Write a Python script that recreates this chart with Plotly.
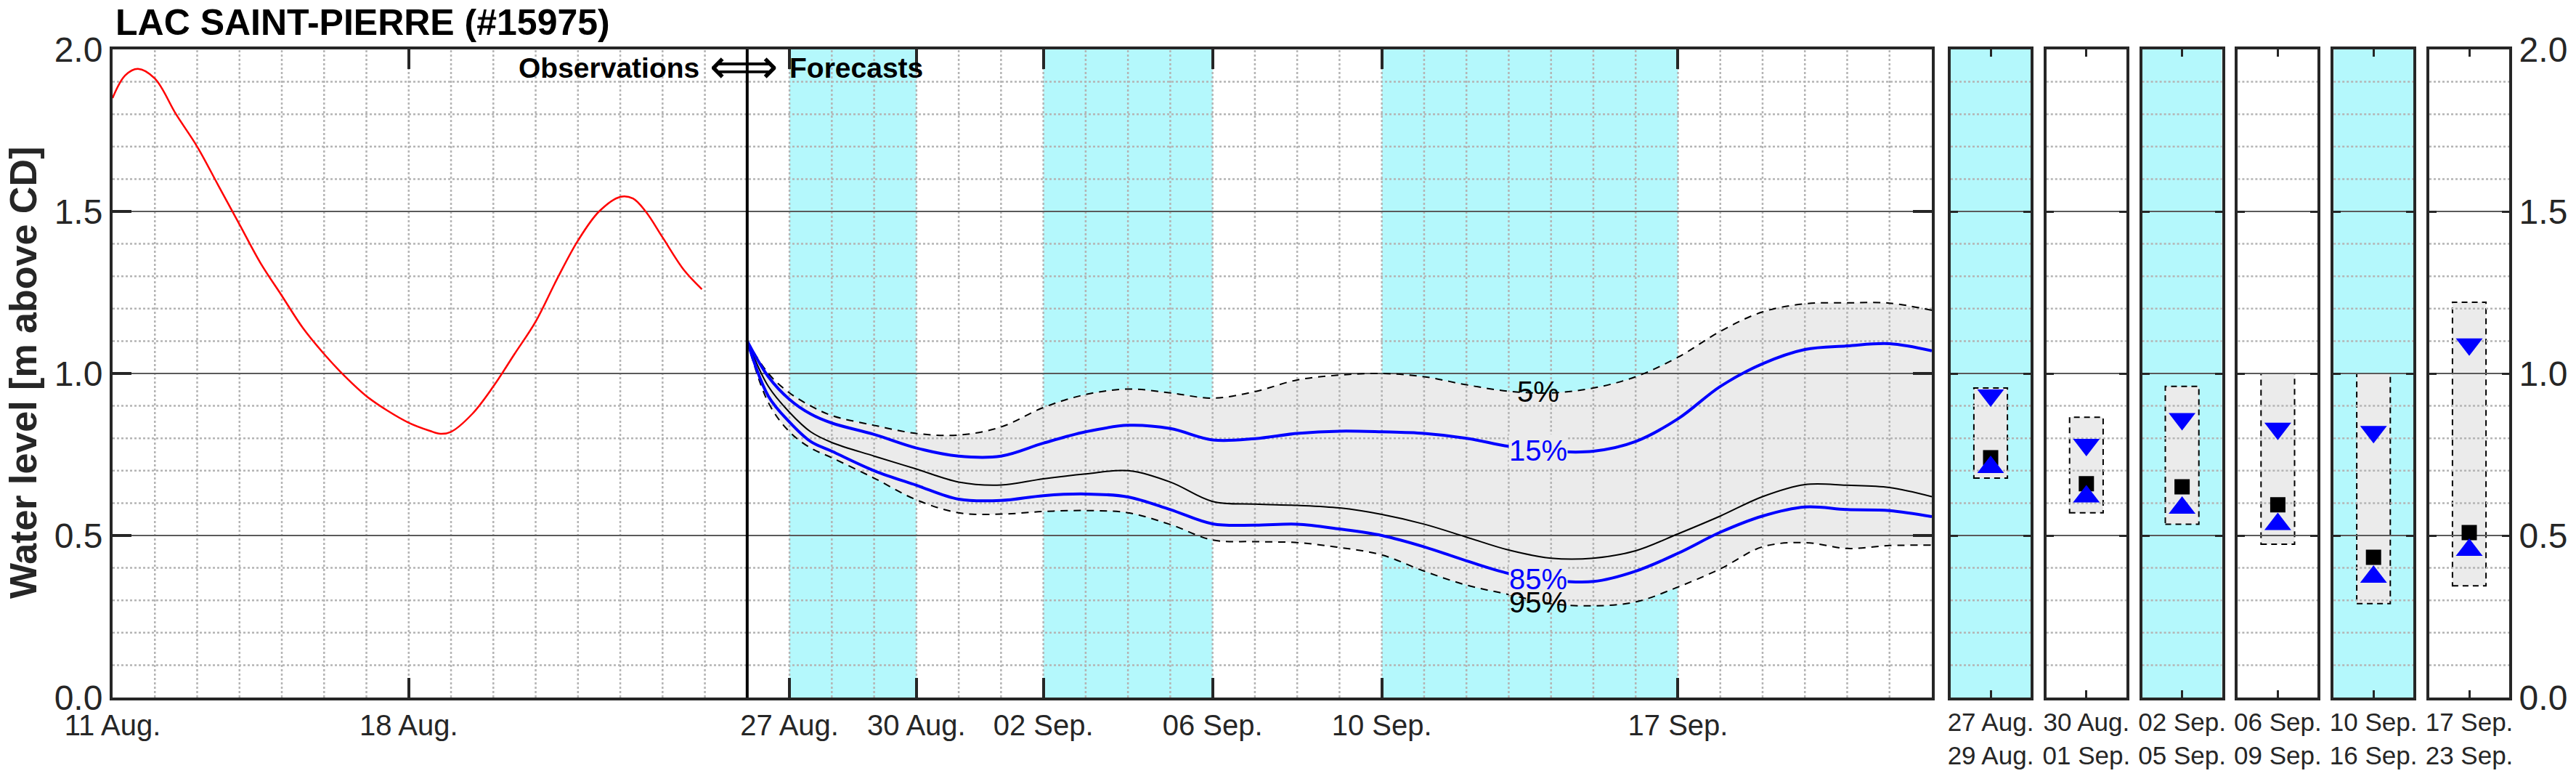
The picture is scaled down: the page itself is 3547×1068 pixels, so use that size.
import plotly.graph_objects as go
import pandas as pd

W, H = 3547, 1068

# ---------------- data ----------------
TITLE = "LAC SAINT-PIERRE (#15975)"
Y_TITLE = "Water level [m above CD]"
T0 = pd.Timestamp("2023-08-11")
T_END = pd.Timestamp("2023-09-23")
T_FC = pd.Timestamp("2023-08-26")

# observations (days after 11 Aug, level m)
obs_day = [0, 0.3, 0.6, 1.0, 1.5, 2.0, 2.5, 3.0, 3.5, 4.0, 4.5, 5.0, 5.5, 6.0, 6.5,
           7.0, 7.5, 7.75, 8.0, 8.5, 9.0, 9.5, 10.0, 10.5, 11.0, 11.5, 12.0, 12.3,
           12.6, 13.0, 13.5, 13.93]
obs_level = [1.85, 1.92, 1.94, 1.91, 1.80, 1.70, 1.58, 1.46, 1.34, 1.24, 1.14, 1.06,
             0.99, 0.93, 0.885, 0.848, 0.823, 0.814, 0.82, 0.875, 0.96, 1.06, 1.16,
             1.29, 1.41, 1.50, 1.545, 1.54, 1.50, 1.42, 1.32, 1.26]

# forecast percentiles (days after 11 Aug)
fc_day = [15, 15.5, 16, 16.5, 17, 18, 19, 20, 21, 22, 23, 24, 25, 26, 27, 28, 29,
          30, 31, 32, 33, 34, 35, 36, 37, 38, 39, 40, 41, 42, 43]
fc_p05 = [1.10, 1.00, 0.94, 0.90, 0.87, 0.84, 0.815, 0.81, 0.835, 0.895, 0.935, 0.952,
          0.94, 0.924, 0.944, 0.98, 0.995, 1.0, 0.99, 0.965, 0.945, 0.94, 0.955, 0.99,
          1.05, 1.13, 1.19, 1.215, 1.218, 1.217, 1.195]
fc_p15 = [1.10, 0.99, 0.92, 0.875, 0.847, 0.812, 0.77, 0.745, 0.745, 0.785, 0.82, 0.84,
          0.83, 0.795, 0.799, 0.815, 0.822, 0.82, 0.815, 0.80, 0.775, 0.76, 0.76, 0.79,
          0.86, 0.96, 1.03, 1.074, 1.085, 1.092, 1.07]
fc_p50 = [1.10, 0.96, 0.88, 0.82, 0.787, 0.745, 0.705, 0.665, 0.656, 0.675, 0.69, 0.70,
          0.665, 0.605, 0.597, 0.593, 0.585, 0.565, 0.535, 0.495, 0.455, 0.43, 0.43,
          0.453, 0.505, 0.56, 0.62, 0.657, 0.655, 0.648, 0.62]
fc_p85 = [1.10, 0.93, 0.85, 0.79, 0.76, 0.70, 0.655, 0.612, 0.608, 0.623, 0.628, 0.619,
          0.58, 0.536, 0.532, 0.535, 0.52, 0.50, 0.465, 0.422, 0.383, 0.362, 0.358,
          0.39, 0.445, 0.51, 0.56, 0.588, 0.58, 0.577, 0.558]
fc_p95 = [1.10, 0.91, 0.82, 0.77, 0.74, 0.677, 0.61, 0.57, 0.566, 0.574, 0.577, 0.57,
          0.534, 0.486, 0.481, 0.478, 0.463, 0.44, 0.39, 0.347, 0.318, 0.29, 0.283,
          0.295, 0.341, 0.397, 0.465, 0.478, 0.46, 0.469, 0.47]

x_tick_dates = ["2023-08-11", "2023-08-18", "2023-08-27", "2023-08-30",
                "2023-09-02", "2023-09-06", "2023-09-10", "2023-09-17"]
x_tick_text = ["11 Aug.", "18 Aug.", "27 Aug.", "30 Aug.", "02 Sep.", "06 Sep.",
               "10 Sep.", "17 Sep."]
y_tick_vals = [0, 0.5, 1.0, 1.5, 2.0]
y_tick_text = ["0.0", "0.5", "1.0", "1.5", "2.0"]

shade_start = ["2023-08-27", "2023-09-02", "2023-09-10"]
shade_end = ["2023-08-30", "2023-09-06", "2023-09-17"]

pct_label = ["5%", "15%", "85%", "95%"]
pct_label_day = [33.7, 33.7, 33.7, 33.7]
pct_label_level = [0.945, 0.763, 0.365, 0.294]
pct_label_color = ["black", "#0000ff", "#0000ff", "black"]

period_label = ["27 Aug.<br>29 Aug.", "30 Aug.<br>01 Sep.", "02 Sep.<br>05 Sep.",
                "06 Sep.<br>09 Sep.", "10 Sep.<br>16 Sep.", "17 Sep.<br>23 Sep."]
period_shaded = [True, False, True, False, True, False]
period_max = [0.955, 0.865, 0.96, 1.0, 1.0, 1.22]
period_p15 = [0.933, 0.78, 0.86, 0.83, 0.82, 1.09]
period_p50 = [0.74, 0.66, 0.65, 0.595, 0.433, 0.509]
period_p85 = [0.711, 0.62, 0.585, 0.535, 0.372, 0.455]
period_min = [0.677, 0.57, 0.535, 0.473, 0.29, 0.345]

# ---------------- style ----------------
FONT = "Liberation Sans, Arial, Helvetica, sans-serif"
AX = "#262626"
CYAN = "#b4f8fc"
BAND = "#ebebeb"
GRID_MINOR = dict(color="#b4b4b4", width=2.5, dash="3px,3px")
GRID_MAJOR = dict(color="#5a5a5a", width=2)
MINOR_LEVELS = [round(0.1 * k, 1) for k in range(1, 20) if k % 5]
MAJOR_LEVELS = [0.5, 1.0, 1.5]

Y_DOM = [1 - 960 / H, 1 - 68 / H]
MAIN_X = [155 / W, 2660 / W]
PANEL_W = 110
panel_left = [2686 + 131.8 * i for i in range(6)]
BOX_HALF = 0.21


def dates(days):
    return [T0 + pd.Timedelta(days=d) for d in days]


def hlines(levels, x0, x1):
    xs, ys = [], []
    for v in levels:
        xs += [x0, x1, None]
        ys += [v, v, None]
    return xs, ys


fig = go.Figure()

# ---- main subplot ----
fcx = dates(fc_day)
fig.add_trace(go.Scatter(x=fcx, y=fc_p95, mode="lines", line=dict(width=0, shape="spline"),
                         hoverinfo="skip", showlegend=False))
fig.add_trace(go.Scatter(x=fcx, y=fc_p05, mode="lines", line=dict(width=0, shape="spline"),
                         fill="tonexty", fillcolor=BAND, hoverinfo="skip", showlegend=False))

# grid
xs, ys = hlines(MINOR_LEVELS, T0, T_END)
fig.add_trace(go.Scatter(x=xs, y=ys, mode="lines", line=GRID_MINOR, hoverinfo="skip",
                         showlegend=False))
vx, vy = [], []
for d in pd.date_range(T0 + pd.Timedelta(days=1), T_END - pd.Timedelta(days=1), freq="D"):
    if d == T_FC:
        continue
    vx += [d, d, None]
    vy += [0, 2, None]
fig.add_trace(go.Scatter(x=vx, y=vy, mode="lines", line=GRID_MINOR, hoverinfo="skip",
                         showlegend=False))
xs, ys = hlines(MAJOR_LEVELS, T0, T_END)
fig.add_trace(go.Scatter(x=xs, y=ys, mode="lines", line=GRID_MAJOR, hoverinfo="skip",
                         showlegend=False))

# percentile lines
for vals, color, width, dash in [(fc_p05, "black", 2, "10px,8px"),
                                 (fc_p95, "black", 2, "10px,8px"),
                                 (fc_p50, "black", 2, "solid"),
                                 (fc_p15, "#0000ff", 4, "solid"),
                                 (fc_p85, "#0000ff", 4, "solid")]:
    fig.add_trace(go.Scatter(x=fcx, y=vals, mode="lines",
                             line=dict(color=color, width=width, dash=dash, shape="spline"),
                             showlegend=False))

fig.add_trace(go.Scatter(x=dates(obs_day), y=obs_level, mode="lines",
                         line=dict(color="#ff0000", width=2.5, shape="spline"),
                         showlegend=False))

shapes = []
for s, e in zip(shade_start, shade_end):
    shapes.append(dict(type="rect", xref="x", yref="y", x0=s, x1=e, y0=0, y1=2,
                       fillcolor=CYAN, line=dict(width=0), layer="below"))
shapes.append(dict(type="line", xref="x", yref="y", x0=T_FC, x1=T_FC, y0=0, y1=2,
                   line=dict(color="black", width=4), layer="above"))

annotations = []
for txt, d, v, c in zip(pct_label, pct_label_day, pct_label_level, pct_label_color):
    annotations.append(dict(x=T0 + pd.Timedelta(days=d), y=v, xref="x", yref="y",
                            text=txt, showarrow=False, xanchor="center", yanchor="middle",
                            font=dict(family=FONT, size=40, color=c),
                            bgcolor=BAND if c != "black" else None, borderpad=0))

HDR_Y = 1 - 93 / H
annotations.append(dict(x=T_FC, y=HDR_Y, xref="x", yref="paper", text="<b>Observations</b>",
                        showarrow=False, xanchor="right", yanchor="middle", xshift=-64,
                        font=dict(family=FONT, size=39, color="black")))
annotations.append(dict(x=T_FC, y=HDR_Y, xref="x", yref="paper", text="⟺",
                        showarrow=False, xanchor="center", yanchor="middle", xshift=-4,
                        yshift=2, font=dict(family="DejaVu Sans", size=66, color="black")))
annotations.append(dict(x=T_FC, y=HDR_Y, xref="x", yref="paper", text="<b>Forecasts</b>",
                        showarrow=False, xanchor="left", yanchor="middle", xshift=56,
                        font=dict(family=FONT, size=39, color="black")))

annotations.append(dict(x=157 / W, y=1 - 31 / H, xref="paper", yref="paper",
                        text="<b>" + TITLE + "</b>", showarrow=False, xanchor="left",
                        yanchor="middle", font=dict(family=FONT, size=50, color="black")))
annotations.append(dict(x=32 / W, y=1 - 513 / H, xref="paper", yref="paper",
                        text="<b>" + Y_TITLE + "</b>", showarrow=False, textangle=-90,
                        xanchor="center", yanchor="middle",
                        font=dict(family=FONT, size=52, color=AX)))

layout = dict(
    width=W, height=H, autosize=False, margin=dict(l=0, r=0, t=0, b=0, pad=0),
    paper_bgcolor="white", plot_bgcolor="white", showlegend=False,
    font=dict(family=FONT, color=AX),
    xaxis=dict(domain=MAIN_X, anchor="y", type="date", range=[T0, T_END], automargin=False,
               tickvals=x_tick_dates, ticktext=x_tick_text, ticks="inside", ticklen=27,
               tickwidth=4, tickcolor=AX, showline=True, linewidth=4, linecolor=AX,
               mirror="ticks", showgrid=False, zeroline=False,
               tickfont=dict(family=FONT, size=40, color=AX)),
    yaxis=dict(domain=Y_DOM, anchor="x", range=[0, 2], tickvals=y_tick_vals, automargin=False,
               ticktext=y_tick_text, ticks="inside", ticklen=26, tickwidth=4, tickcolor=AX,
               showline=True, linewidth=4, linecolor=AX, mirror="ticks", showgrid=False,
               zeroline=False, tickfont=dict(family=FONT, size=48, color=AX)),
)

# ---- period panels ----
for i in range(6):
    n = i + 2
    xa, ya = f"x{n}", f"y{n}"
    left = panel_left[i]
    layout[f"xaxis{n}"] = dict(domain=[left / W, (left + PANEL_W) / W], anchor=ya,
                               range=[0, 1], tickvals=[0.5], ticktext=[period_label[i]],
                               ticks="inside", ticklen=10, tickwidth=3, tickcolor=AX,
                               showline=True, linewidth=4, linecolor=AX, mirror="ticks",
                               showgrid=False, zeroline=False, automargin=False,
                               tickfont=dict(family=FONT, size=35, color=AX))
    ydict = dict(domain=Y_DOM, anchor=xa, range=[0, 2], tickvals=y_tick_vals,
                 ticktext=y_tick_text, ticks="inside", ticklen=10, tickwidth=3,
                 tickcolor=AX, showline=True, linewidth=4, linecolor=AX, mirror="ticks",
                 showgrid=False, zeroline=False, showticklabels=False, automargin=False,
                 tickfont=dict(family=FONT, size=48, color=AX))
    if i == 5:
        ydict.update(side="right", showticklabels=True)
    layout[f"yaxis{n}"] = ydict

    if period_shaded[i]:
        shapes.append(dict(type="rect", xref=xa, yref=ya, x0=0, x1=1, y0=0, y1=2,
                           fillcolor=CYAN, line=dict(width=0), layer="below"))
    shapes.append(dict(type="rect", xref=xa, yref=ya, x0=0.5 - BOX_HALF, x1=0.5 + BOX_HALF,
                       y0=period_min[i], y1=period_max[i], fillcolor=BAND,
                       line=dict(color="black", width=2, dash="8px,6px"), layer="below"))

    xs, ys = hlines(MINOR_LEVELS, 0, 1)
    fig.add_trace(go.Scatter(x=xs, y=ys, xaxis=xa, yaxis=ya, mode="lines", line=GRID_MINOR,
                             hoverinfo="skip", showlegend=False))
    xs, ys = hlines(MAJOR_LEVELS, 0, 1)
    fig.add_trace(go.Scatter(x=xs, y=ys, xaxis=xa, yaxis=ya, mode="lines", line=GRID_MAJOR,
                             hoverinfo="skip", showlegend=False))
    fig.add_trace(go.Scatter(x=[0.5], y=[period_p50[i]], xaxis=xa, yaxis=ya, mode="markers",
                             marker=dict(symbol="square", size=21, color="black"),
                             showlegend=False))
    fig.add_trace(go.Scatter(x=[0.5, 0.5], y=[period_p15[i], period_p85[i]], xaxis=xa,
                             yaxis=ya, mode="markers",
                             marker=dict(symbol=["triangle-down", "triangle-up"], size=32,
                                         color="#0000ff"),
                             showlegend=False))

layout["shapes"] = shapes
layout["annotations"] = annotations
fig.update_layout(**layout)

fig.write_html("out.html", config={"displayModeBar": False},
               post_script="document.body.style.margin='0';")
